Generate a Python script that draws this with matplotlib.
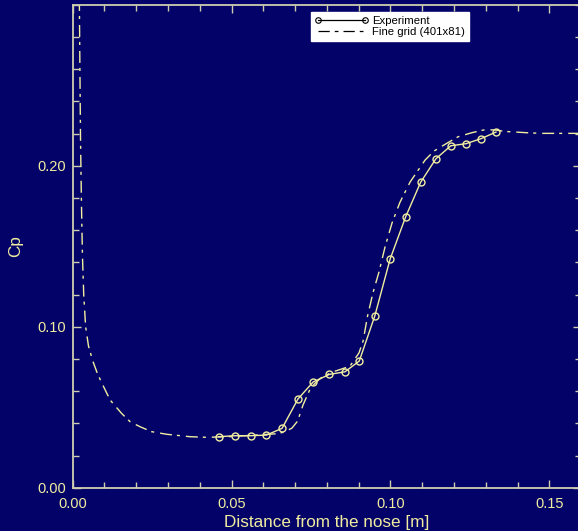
import matplotlib
matplotlib.use("Agg")
import matplotlib.pyplot as plt
from matplotlib.lines import Line2D
from matplotlib.ticker import MultipleLocator, FixedLocator, FormatStrFormatter

plt.rcParams['font.family'] = ['Liberation Sans', 'DejaVu Sans']

# Measured pressure coefficient along the body
exp_x = [0.0460, 0.0510, 0.0560, 0.0610, 0.0659, 0.0709, 0.0757, 0.0808, 0.0857,
         0.0902, 0.0951, 0.0999, 0.1048, 0.1095, 0.1143, 0.1190, 0.1238, 0.1285, 0.1332]
exp_cp = [0.0317, 0.0323, 0.0323, 0.0327, 0.0369, 0.0551, 0.0657, 0.0704, 0.0720,
          0.0787, 0.1068, 0.1420, 0.1683, 0.1897, 0.2043, 0.2124, 0.2137, 0.2168, 0.2209]

# Computed Cp, fine grid (401x81)
cfd_x = [0.0021, 0.0023, 0.0025, 0.0028, 0.0031, 0.0035, 0.0041, 0.0050, 0.0063,
         0.0077, 0.0092, 0.0118, 0.0154, 0.0181, 0.0212, 0.0249, 0.0296, 0.0369,
         0.0422, 0.0500, 0.0600, 0.0640, 0.0665, 0.0690, 0.0708, 0.0725, 0.0750,
         0.0780, 0.0815, 0.0852, 0.0873, 0.0901, 0.0914, 0.0928, 0.0945, 0.0964,
         0.0983, 0.1005, 0.1030, 0.1062, 0.1083, 0.1109, 0.1137, 0.1178, 0.1213,
         0.1256, 0.1298, 0.1330, 0.1360, 0.1429, 0.1474, 0.1535, 0.1600]
cfd_cp = [0.3100, 0.2600, 0.2150, 0.1750, 0.1440, 0.1200, 0.1000, 0.0880, 0.0790,
          0.0715, 0.0650, 0.0545, 0.0462, 0.0410, 0.0379, 0.0348, 0.0332, 0.0317,
          0.0313, 0.0318, 0.0330, 0.0335, 0.0345, 0.0370, 0.0414, 0.0514, 0.0625,
          0.0680, 0.0717, 0.0741, 0.0756, 0.0837, 0.0911, 0.1066, 0.1210, 0.1340,
          0.1495, 0.1644, 0.1773, 0.1899, 0.1960, 0.2035, 0.2091, 0.2140, 0.2180,
          0.2205, 0.2224, 0.2222, 0.2213, 0.2205, 0.2201, 0.2201, 0.2201]

x_ticks = [0.00, 0.05, 0.10, 0.15]
y_ticks = [0.00, 0.10, 0.20]

bg = '#020268'
line_col = '#f2eea0'
text_col = '#f0eca0'
spine_col = '#cfcdb0'

fig = plt.figure(figsize=(5.78, 5.31), dpi=100, facecolor=bg)
ax = fig.add_axes([0.1256, 0.0815, 0.8798, 0.9096], facecolor=bg)

ax.plot(cfd_x, cfd_cp, color=line_col, lw=1.0, dashes=(8.6, 3.6, 2.2, 4.3), zorder=2)
ax.plot(exp_x, exp_cp, color=line_col, lw=1.0, marker='o', ms=5.0,
        mfc='none', mec=line_col, mew=1.0, zorder=3)

ax.set_xlim(0, 0.16)
ax.set_ylim(0, 0.30)
ax.xaxis.set_major_locator(FixedLocator(x_ticks))
ax.xaxis.set_minor_locator(MultipleLocator(0.01))
ax.yaxis.set_major_locator(FixedLocator(y_ticks))
ax.yaxis.set_minor_locator(MultipleLocator(0.02))
ax.xaxis.set_major_formatter(FormatStrFormatter('%.2f'))
ax.yaxis.set_major_formatter(FormatStrFormatter('%.2f'))

ax.tick_params(which='both', direction='in', top=True, right=True,
               color=spine_col, labelcolor=text_col, labelsize=10.5, width=1.0)
ax.tick_params(which='major', length=6)
ax.tick_params(which='minor', length=4)
ax.tick_params(axis='x', which='major', pad=6.5)
ax.tick_params(axis='y', which='major', pad=5)
for s in ax.spines.values():
    s.set_color(spine_col)
    s.set_linewidth(1.3)

ax.set_xlabel('Distance from the nose [m]', color=text_col, fontsize=12.3, labelpad=3)
ax.set_ylabel('Cp', color=text_col, fontsize=12.3, labelpad=10)

handles = [
    Line2D([0], [0], color='black', lw=0.9, marker='o', ms=4, mfc='none',
           mec='black', mew=0.8),
    Line2D([0], [0], color='black', lw=0.9, dashes=(9, 4, 3, 4)),
]
leg = ax.legend(handles, ['Experiment', 'Fine grid (401x81)'],
                loc='upper left', bbox_to_anchor=(0.468, 0.985), fontsize=8.2,
                frameon=True, fancybox=False, framealpha=1.0, numpoints=2,
                handlelength=4.7, handletextpad=0.35, borderpad=0.35,
                labelspacing=0.12, borderaxespad=0.0)
leg.get_frame().set_facecolor('white')
leg.get_frame().set_edgecolor('white')

fig.savefig('out.png', dpi=100, facecolor=bg)
